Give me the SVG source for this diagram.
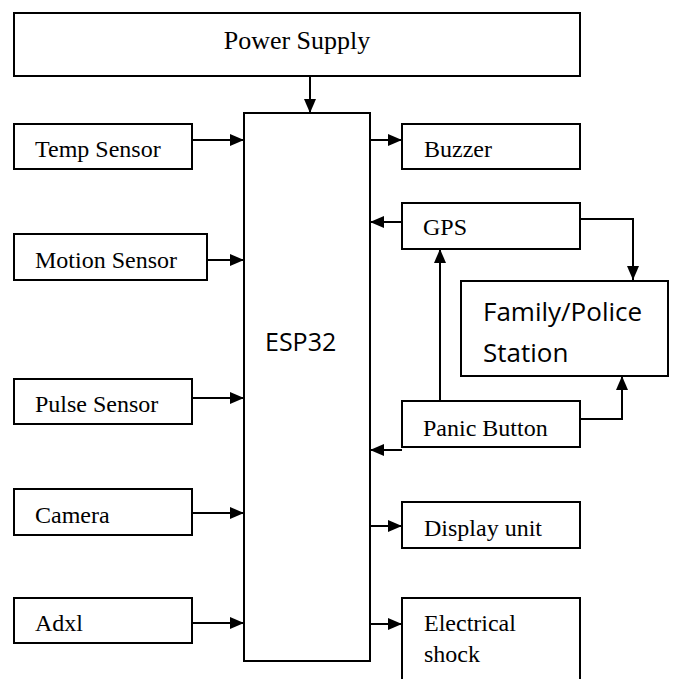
<svg xmlns="http://www.w3.org/2000/svg" width="675" height="679" viewBox="0 0 675 679">
<defs>
<style>
.box{fill:#fff;stroke:#000;stroke-width:2}
.t{font-family:"Liberation Serif","Times New Roman",serif;font-size:24px;fill:#000}
.big{font-size:26px}
.s{font-family:"Open Sans","Noto Sans",sans-serif;font-size:26px;fill:#000}
.c{fill:none;stroke:#000;stroke-width:2}
</style>
<marker id="ah" markerUnits="userSpaceOnUse" markerWidth="14" markerHeight="12" refX="14" refY="6" orient="auto">
<path d="M0,0 L14,6 L0,12 Z" fill="#000"/>
</marker>
</defs>
<rect width="675" height="679" fill="#fff"/>
<g id="connectors">
<line class="c" x1="310" y1="76" x2="310" y2="113" marker-end="url(#ah)"/>
<line class="c" x1="192" y1="140" x2="244" y2="140" marker-end="url(#ah)"/>
<line class="c" x1="207" y1="260" x2="244" y2="260" marker-end="url(#ah)"/>
<line class="c" x1="192" y1="398" x2="244" y2="398" marker-end="url(#ah)"/>
<line class="c" x1="192" y1="513" x2="244" y2="513" marker-end="url(#ah)"/>
<line class="c" x1="192" y1="623" x2="244" y2="623" marker-end="url(#ah)"/>
<line class="c" x1="370" y1="140" x2="402" y2="140" marker-end="url(#ah)"/>
<line class="c" x1="402" y1="222" x2="370" y2="222" marker-end="url(#ah)"/>
<polyline class="c" points="580,219 633,219 633,280" marker-end="url(#ah)"/>
<line class="c" x1="440" y1="401" x2="440" y2="249" marker-end="url(#ah)"/>
<polyline class="c" points="580,419 622,419 622,376" marker-end="url(#ah)"/>
<line class="c" x1="402" y1="450" x2="370" y2="450" marker-end="url(#ah)"/>
<line class="c" x1="370" y1="526" x2="402" y2="526" marker-end="url(#ah)"/>
<line class="c" x1="370" y1="624" x2="402" y2="624" marker-end="url(#ah)"/>
</g>
<g id="power-supply">
<rect class="box" x="14" y="13" width="566" height="63"/>
<text class="t big" x="297" y="49" text-anchor="middle">Power Supply</text>
</g>
<g id="esp32">
<rect class="box" x="244" y="113" width="126" height="548"/>
<text class="s" x="265" y="351" font-size="25" style="font-size:25px">ESP32</text>
</g>
<g id="temp-sensor">
<rect class="box" x="14" y="124" width="178" height="45"/>
<text class="t" x="35" y="157">Temp Sensor</text>
</g>
<g id="motion-sensor">
<rect class="box" x="14" y="234" width="193" height="46"/>
<text class="t" x="35" y="268">Motion Sensor</text>
</g>
<g id="pulse-sensor">
<rect class="box" x="14" y="379" width="178" height="45"/>
<text class="t" x="35" y="412">Pulse Sensor</text>
</g>
<g id="camera">
<rect class="box" x="14" y="489" width="178" height="46"/>
<text class="t" x="35" y="523">Camera</text>
</g>
<g id="adxl">
<rect class="box" x="14" y="598" width="178" height="45"/>
<text class="t" x="35" y="631">Adxl</text>
</g>
<g id="buzzer">
<rect class="box" x="402" y="124" width="178" height="45"/>
<text class="t" x="424" y="157">Buzzer</text>
</g>
<g id="gps">
<rect class="box" x="402" y="203" width="178" height="46"/>
<text class="t" x="423" y="235">GPS</text>
</g>
<g id="family-police-station">
<rect class="box" x="461" y="281" width="207" height="95"/>
<text class="s" x="483" y="321">Family/Police</text>
<text class="s" x="483" y="362">Station</text>
</g>
<g id="panic-button">
<rect class="box" x="402" y="401" width="178" height="46"/>
<text class="t" x="423" y="436">Panic Button</text>
</g>
<g id="display-unit">
<rect class="box" x="402" y="502" width="178" height="46"/>
<text class="t" x="424" y="536">Display unit</text>
</g>
<g id="electrical-shock">
<rect class="box" x="402" y="598" width="178" height="95"/>
<text class="t" x="424" y="631">Electrical</text>
<text class="t" x="424" y="662">shock</text>
</g>
</svg>
